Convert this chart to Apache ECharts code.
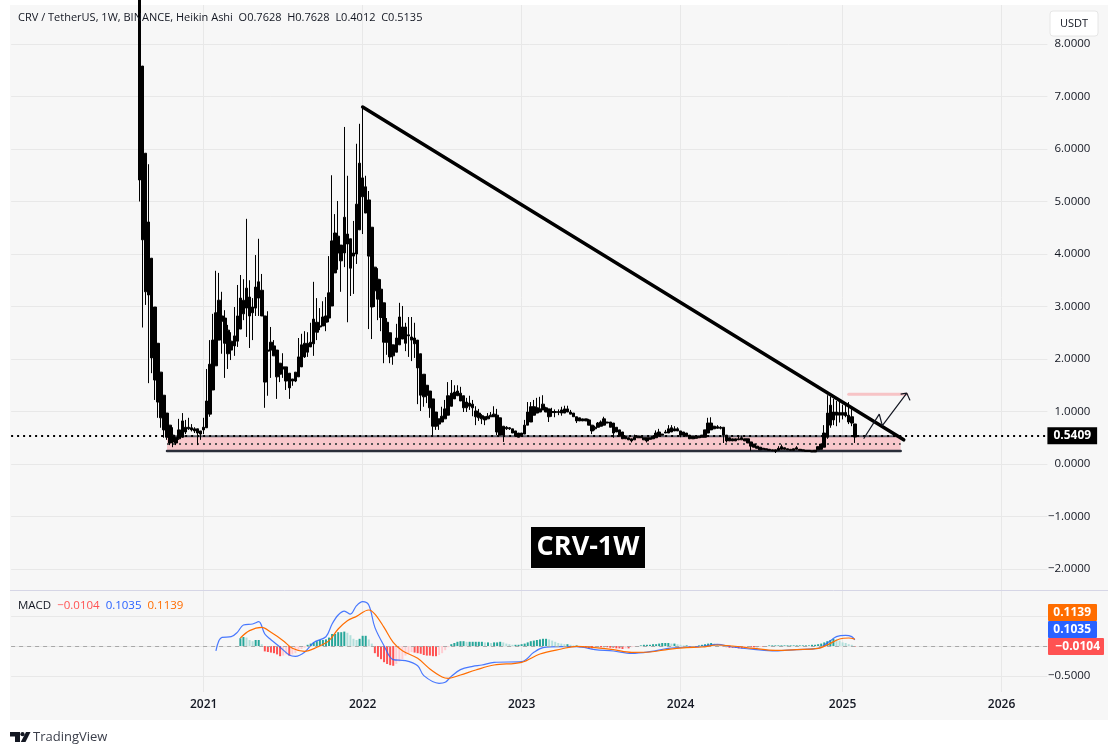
<!DOCTYPE html>
<html lang="en">
<head>
<meta charset="UTF-8">
<title>CRV / TetherUS 1W</title>
<script src="https://cdn.jsdelivr.net/npm/echarts@6/dist/echarts.min.js"></script>
<style>
  html, body { margin: 0; padding: 0; background: #fff; }
  #main { width: 1118px; height: 755px; }
</style>
</head>
<body>
<div id="main"></div>
<script>
// Heikin Ashi weekly candles (first one: Aug 2020)
const bodyTop = [
  9.75,7.58,5.92,4.61,3.92,2.99,2.30,1.75,1.31,0.97,
  .74,.55,.51,.65,.82,.70,.70,.69,.67,.67,
  .63,.70,1.20,1.90,2.36,2.88,3.12,2.82,2.78,2.55,
  2.34,2.44,2.82,3.16,3.12,3.35,3.18,2.99,3.37,3.47,
  3.31,2.82,2.17,2.32,2.25,2.17,1.92,1.85,1.85,1.73,
  1.62,1.75,2.04,2.27,2.30,2.30,2.32,2.76,2.70,2.63,
  2.80,2.82,3.26,4.25,4.40,4.34,4.17,4.70,4.38,4.29,
  4.02,4.95,5.73,5.45,5.28,5.03,4.51,3.75,3.52,3.33,
  3.07,2.70,2.50,2.27,2.40,2.80,2.61,2.61,2.46,2.42,
  2.40,2.36,2.10,1.71,1.50,1.39,1.24,.99,.86,.91,
  1.05,1.30,1.35,1.37,1.39,1.35,1.30,1.18,1.16,1.14,
  1.01,.97,.92,.90,.91,.93,.95,.93,.88,.72,
  .70,.69,.67,.63,.59,.59,.74,.99,1.09,1.09,
  1.07,1.05,1.14,1.07,1.05,1.00,1.00,1.00,1.03,1.05,
  1.05,.99,.97,.90,.88,.86,.86,.84,.74,.70,
  .78,.80,.86,.80,.80,.78,.70,.65,.61,.53,
  .50,.48,.51,.53,.52,.50,.50,.50,.53,.59,
  .61,.57,.61,.67,.69,.67,.67,.63,.61,.59,
  .55,.53,.51,.53,.55,.65,.78,.78,.72,.71,
  .70,.70,.55,.50,.48,.48,.48,.50,.48,.48,
  .42,.38,.34,.32,.30,.29,.28,.27,.27,.30,
  .33,.31,.29,.28,.29,.31,.28,.27,.26,.26,
  .25,.26,.33,.38,.59,.97,1.12,.99,.99,.98,
  .98,.98,.93,.90,.7628
];
const bodyBot = [
  5.41,4.27,3.28,3.22,2.02,1.60,1.18,.88,.65,.51,
  .40,.42,.40,.48,.51,.61,.67,.65,.63,.59,
  .57,.65,.69,.95,1.41,1.87,2.36,2.72,2.30,2.10,
  2.17,2.25,2.34,2.57,2.86,2.97,2.82,2.88,2.97,3.16,
  2.82,1.56,2.15,2.17,2.06,1.66,1.71,1.81,1.58,1.45,
  1.58,1.58,1.66,1.85,2.04,2.13,2.23,2.29,2.51,2.61,
  2.63,2.70,2.78,3.01,3.64,4.02,3.87,4.02,4.19,3.73,
  3.96,4.00,4.46,5.09,4.78,3.96,2.99,3.30,3.14,2.79,
  2.32,2.32,2.04,2.06,2.13,2.27,2.38,2.30,2.44,2.36,
  2.29,1.83,1.31,1.28,1.31,1.07,.72,.72,.76,.80,
  .86,.93,1.10,1.24,1.30,1.20,1.07,1.07,1.10,1.07,
  .90,.88,.86,.84,.86,.90,.90,.61,.55,.55,
  .67,.67,.59,.53,.51,.53,.57,.74,.80,.93,
  .97,.99,1.03,.99,.90,.98,.98,.98,.97,.97,
  .99,.95,.90,.82,.82,.82,.82,.74,.63,.67,
  .70,.72,.74,.78,.70,.59,.61,.53,.48,.48,
  .46,.44,.46,.50,.50,.46,.44,.47,.48,.50,
  .53,.55,.59,.59,.61,.63,.63,.55,.55,.53,
  .48,.48,.49,.50,.51,.51,.59,.65,.67,.68,
  .68,.55,.44,.44,.44,.44,.46,.46,.44,.40,
  .34,.32,.30,.27,.28,.27,.26,.25,.24,.26,
  .28,.28,.27,.26,.26,.28,.26,.25,.24,.24,
  .23,.23,.27,.28,.32,.51,.74,.84,.93,.93,
  .93,.92,.80,.78,.5135
];
const wickHigh = [
  9.75,7.58,5.92,5.71,3.92,2.99,2.30,1.75,1.31,.97,
  .74,.70,.51,.86,.97,.84,.88,.76,.70,.67,
  .63,.88,1.81,2.36,2.86,3.68,3.64,3.28,2.93,2.65,
  2.51,2.99,3.41,3.60,3.52,4.67,3.50,3.16,3.98,4.29,
  3.62,2.82,2.91,2.61,2.36,2.17,1.92,2.11,1.85,1.73,
  1.62,1.75,2.40,2.48,2.53,2.51,2.69,3.47,3.16,2.97,
  3.10,3.18,3.96,5.50,4.76,5.01,4.17,6.42,5.49,4.29,
  4.63,6.10,6.48,6.80,5.49,5.20,4.51,3.75,3.73,3.52,
  3.07,2.78,2.50,2.27,2.67,3.07,3.01,2.69,2.80,2.80,
  2.69,2.36,2.10,1.71,1.50,1.39,1.24,.99,.86,1.09,
  1.22,1.56,1.60,1.50,1.50,1.47,1.30,1.26,1.30,1.22,
  1.10,1.05,.95,.90,.97,.99,1.10,1.05,.88,.72,
  .72,.70,.67,.63,.59,.59,.84,1.18,1.18,1.22,
  1.26,1.28,1.31,1.09,1.05,1.07,1.04,1.04,1.09,1.11,
  1.11,1.03,.97,.90,.88,.86,.86,.86,.74,.73,
  .80,.83,.90,.80,.80,.78,.70,.65,.61,.53,
  .50,.48,.56,.53,.52,.50,.50,.50,.53,.64,
  .67,.57,.65,.74,.74,.72,.70,.63,.61,.59,
  .55,.53,.51,.53,.55,.65,.88,.89,.72,.74,
  .72,.70,.55,.50,.48,.48,.52,.54,.48,.48,
  .42,.38,.34,.32,.30,.29,.28,.27,.27,.34,
  .37,.31,.29,.28,.29,.34,.28,.27,.26,.26,
  .25,.26,.33,.38,.74,1.31,1.28,1.24,1.20,1.22,
  1.13,1.18,1.18,1.06,.7628
];
const wickLow = [
  5.00,2.60,3.03,1.54,1.73,1.22,.88,.69,.50,.46,
  .36,.32,.36,.46,.50,.57,.65,.62,.59,.36,
  .46,.57,.69,.90,1.41,1.87,2.36,2.10,1.64,1.81,
  1.98,2.06,2.23,2.57,2.74,2.42,2.21,2.36,2.82,2.82,
  2.82,1.07,1.30,1.64,2.06,1.24,1.56,1.64,1.41,1.24,
  1.49,1.56,1.66,1.85,2.02,2.04,2.23,2.06,2.36,2.55,
  2.63,2.53,2.70,3.01,3.64,3.70,3.28,3.75,2.70,3.20,
  3.24,3.81,4.46,4.38,4.78,2.57,2.38,2.99,2.74,2.53,
  1.92,2.08,1.92,1.89,2.13,2.27,2.38,2.15,2.04,1.96,
  2.02,1.14,1.01,1.09,1.16,.88,.55,.65,.65,.80,
  .86,.93,1.10,1.24,1.30,1.20,.99,.99,1.03,.91,
  .74,.82,.76,.74,.86,.90,.90,.55,.55,.42,
  .65,.65,.59,.53,.51,.53,.57,.74,.80,.93,
  .97,.99,1.03,.99,.80,.90,.89,.93,.92,.97,
  .99,.95,.90,.78,.82,.82,.82,.74,.57,.64,
  .70,.72,.74,.78,.70,.50,.61,.53,.48,.48,
  .46,.41,.46,.50,.50,.46,.41,.47,.48,.50,
  .53,.55,.59,.59,.61,.63,.63,.51,.55,.53,
  .48,.48,.49,.50,.51,.51,.59,.65,.67,.68,
  .66,.40,.41,.44,.44,.44,.46,.46,.44,.40,
  .25,.32,.30,.27,.28,.27,.26,.25,.21,.26,
  .28,.28,.27,.26,.26,.28,.26,.25,.24,.24,
  .23,.23,.27,.28,.32,.48,.69,.74,.72,.79,
  .85,.89,.76,.72,.4012
];

// MACD pane, weeks are counted from the first candle
const macdWeeks = [25,26,27,30,32,34,37,39,41,43,46,49,51,54,57,61,63,65,67,69,71,73,75,77,80,83,87,91,93,98,
  100,102,105,109,112,116,125,129,132,138,143,149,155,161,167,173,179,184,189,194,201,208,215,222,225,228,231,233,234];
const macdValues = [-.08,.09,.144,.155,.228,.35,.367,.405,.20,.105,-.02,-.15,-.172,-.105,.06,.155,.367,.517,.583,.533,
  .672,.739,.683,.31,.005,-.228,-.244,-.328,-.494,-.622,-.606,-.506,-.394,-.339,-.317,-.272,-.261,-.106,-.028,-.011,
  -.011,-.06,-.083,-.122,-.094,-.04,-.017,-.006,.028,-.017,-.056,-.083,-.06,-.04,.05,.156,.178,.156,.1035];
const signalWeeks = [33,36,40,43,47,50,54,58,62,65,68,71,75,77,80,83,86,91,95,99,
  101,105,110,116,125,131,138,143,149,155,161,167,173,179,184,189,194,201,208,215,222,225,229,232,234];
const signalValues = [.133,.256,.311,.228,.089,-.039,-.089,-.022,.089,.283,.422,.494,.60,.533,.311,.061,-.078,-.206,-.383,-.517,
  -.539,-.483,-.40,-.317,-.272,-.133,-.05,-.005,-.028,-.06,-.105,-.10,-.055,-.028,-.017,.017,0,-.039,-.072,-.06,-.04,.017,.117,.133,.1139];
const histFirstWeek = 33;
const histValues = [
  .13,.15,.14,.10,.08,.10,.10,.03,
  -.09,-.10,-.11,-.12,-.14,-.17,-.16,-.14,-.16,-.14,-.12,-.08,-.05,-.03,
  .02,.04,.06,.08,.10,.10,.11,.14,.20,.20,.23,.23,.24,.22,.18,.12,.10,.12,.17,.17,.11,.04,
  -.12,-.18,-.22,-.27,-.30,-.32,-.33,-.30,-.26,-.22,-.16,-.12,-.10,-.11,-.12,-.13,-.15,-.16,-.16,-.17,-.17,-.15,-.12,-.07,-.02,
  .03,.05,.07,.08,.08,.07,.07,.07,.07,.07,.07,.06,.06,.05,.06,.06,.07,.06,.04,.03,.02,.02,.02,.03,.04,.06,.08,.09,.10,.11,.12,.12,.11,.09,.07,.05,.04,.03,.03,.02,.01,.01,
  -.02,-.02,-.03,-.04,-.04,-.03,-.01,-.02,-.02,-.02,-.03,-.03,-.04,-.04,-.05,-.04,-.04,-.02,-.01,0,
  .01,.02,.02,.02,.03,.03,.04,.05,.05,.05,.04,.04,.03,.02,.01,.01,
  -.01,-.01,-.01,.01,.02,.03,.04,.05,.04,.03,.01,
  -.01,-.02,-.03,-.03,-.03,-.04,-.04,-.03,-.02,-.02,-.02,-.02,-.01,-.01,0,
  .01,.01,.01,.01,.01,.01,.01,.01,.01,.01,.01,.01,.01,.01,.02,.02,.03,.04,.06,.08,.10,.12,.11,.09,.06,.05,.03,.02,-.01
];

// Drawings on the price pane: [week, price]
const trendLine = [[73, 6.8], [250, 0.46]];
const zoneTop = [[9, 0.53], [249, 0.53]];
const zoneMid = [[9, 0.38], [249, 0.38]];
const zoneBottom = [[9, 0.25], [249, 0.25]];
const targetLine = [[232, 1.33], [251, 1.33]];
const arrowPath = [[237, 0.49], [242, 0.95], [243, 0.73], [251, 1.35], [249, 1.33], [251, 1.35], [252, 1.22]];
const lastPrice = 0.5409;

// Axis
const yearLabels = ['2021', '2022', '2023', '2024', '2025', '2026'];
const yearWeeks = [21, 73, 125, 177, 230, 282];
const legendLine = 'CRV / TetherUS, 1W, BINANCE, Heikin Ashi  O0.7628  H0.7628  L0.4012  C0.5135';
const macdTags = ['0.1139', '0.1035', '\u22120.0104'];

const leadWeeks = 42;   // empty weeks left of the first candle
const totalWeeks = 340;
const fontName = '"Open Sans", "Noto Sans", sans-serif';

let categories = [];
for (let i = 0; i < totalWeeks; i++) categories.push('w' + i);
yearWeeks.forEach((w, k) => { categories[w + leadWeeks] = yearLabels[k]; });
const isYear = (idx) => yearWeeks.indexOf(idx - leadWeeks) >= 0;
const shift = (pts) => pts.map(p => [p[0] + leadWeeks, p[1]]);

let candles = bodyTop.map((t, i) => [i + leadWeeks, t, bodyBot[i], wickLow[i], wickHigh[i]]);
let hist = histValues.map((v, i) => {
  let prev = i > 0 ? histValues[i - 1] : 0;
  let color;
  if (v >= 0) color = v >= prev ? '#26a69a' : '#b2dfdb';
  else color = v <= prev ? '#ff5252' : '#ffcdd2';
  return { value: [histFirstWeek + i + leadWeeks, v], itemStyle: { color: color } };
});

function plainLine(name, pts, width, color, dash, z) {
  return {
    name: name, type: 'line', data: shift(pts), xAxisIndex: 0, yAxisIndex: 0,
    symbol: 'none', silent: true, z: z,
    lineStyle: { width: width, color: color, type: dash || 'solid', cap: dash ? 'butt' : 'round' }
  };
}

const gridLineColor = '#e8e8e8';
const plotLeft = 11.1, plotWidth = 1036.3;

let myChart = echarts.init(document.getElementById('main'), null, { renderer: 'canvas' });
let option = {
  animation: false,
  backgroundColor: '#fff',
  textStyle: { fontFamily: fontName },
  title: [
    { text: legendLine, left: 18, top: 12, padding: 0, textStyle: { fontSize: 11, fontWeight: 'normal', color: '#131722', fontFamily: fontName } },
    {
      text: 'MACD  {r|\u22120.0104}  {b|0.1035}  {o|0.1139}', left: 18, top: 600, padding: 0,
      textStyle: {
        fontSize: 11.5, fontWeight: 'normal', color: '#131722', fontFamily: fontName,
        rich: { r: { color: '#ff5252', fontSize: 11.5 }, b: { color: '#2962ff', fontSize: 11.5 }, o: { color: '#ff6d00', fontSize: 11.5 } }
      }
    }
  ],
  graphic: [
    { type: 'rect', z: -10, silent: true, shape: { x: 10, y: 5, width: 1098, height: 715 }, style: { fill: '#f7f7f7' } },
    { type: 'line', z: 1, silent: true, shape: { x1: 10, y1: 590.5, x2: 1108, y2: 590.5 }, style: { stroke: '#d6d6e6', lineWidth: 1 } },
    // unit box
    { type: 'rect', z: 5, silent: true, shape: { x: 1050, y: 11, width: 48, height: 25, r: 3 }, style: { fill: '#fff', stroke: '#e6e6e6' } },
    { type: 'text', z: 6, silent: true, style: { x: 1074, y: 23.5, text: 'USDT', fill: '#131722', font: '11px ' + fontName, align: 'center', verticalAlign: 'middle' } },
    // MACD tags
    { type: 'rect', z: 5, silent: true, shape: { x: 1048, y: 604, width: 49, height: 17, r: 1 }, style: { fill: '#ff6d00' } },
    { type: 'text', z: 6, silent: true, style: { x: 1091, y: 612.5, text: macdTags[0], fill: '#fff', font: 'bold 12px ' + fontName, align: 'right', verticalAlign: 'middle' } },
    { type: 'rect', z: 5, silent: true, shape: { x: 1048, y: 621, width: 49, height: 17, r: 1 }, style: { fill: '#2962ff' } },
    { type: 'text', z: 6, silent: true, style: { x: 1091, y: 629.5, text: macdTags[1], fill: '#fff', font: 'bold 12px ' + fontName, align: 'right', verticalAlign: 'middle' } },
    { type: 'rect', z: 5, silent: true, shape: { x: 1048, y: 638, width: 56, height: 17, r: 1 }, style: { fill: '#ff5252' } },
    { type: 'text', z: 6, silent: true, style: { x: 1100, y: 646.5, text: macdTags[2], fill: '#fff', font: 'bold 12px ' + fontName, align: 'right', verticalAlign: 'middle' } },
    // chart name badge
    { type: 'rect', z: 5, silent: true, shape: { x: 531, y: 527, width: 114, height: 41 }, style: { fill: '#000' } },
    { type: 'text', z: 6, silent: true, style: { x: 588, y: 547.5, text: 'CRV-1W', fill: '#fff', font: 'bold 27px ' + fontName, align: 'center', verticalAlign: 'middle' } },
    // logo
    { type: 'polygon', silent: true, shape: { points: [[10, 732], [20, 732], [20, 742], [15, 742], [15, 736.5], [10, 736.5]] }, style: { fill: '#131722' } },
    { type: 'circle', silent: true, shape: { cx: 22.5, cy: 734.2, r: 2.1 }, style: { fill: '#131722' } },
    { type: 'polygon', silent: true, shape: { points: [[26, 732], [30.5, 732], [25.5, 742], [20.8, 742]] }, style: { fill: '#131722' } },
    { type: 'text', silent: true, style: { x: 33, y: 737.5, text: 'TradingView', fill: '#3a3e4a', font: '13px ' + fontName, verticalAlign: 'middle' } }
  ],
  grid: [
    { left: plotLeft, width: plotWidth, top: 5, height: 585 },
    { left: plotLeft, width: plotWidth, top: 591, height: 101 }
  ],
  xAxis: [0, 1].map(k => ({
    type: 'category', gridIndex: k, data: categories, boundaryGap: false,
    axisLine: { show: false }, axisTick: { show: false },
    axisPointer: { show: false },
    splitLine: { show: true, interval: (idx) => isYear(idx), lineStyle: { color: gridLineColor, width: 1 } },
    axisLabel: k === 0 ? { show: false } : {
      show: true, interval: (idx) => isYear(idx), margin: 7, hideOverlap: false,
      color: '#131722', fontSize: 12, fontWeight: 600, fontFamily: fontName
    }
  })),
  yAxis: [
    {
      type: 'value', gridIndex: 0, position: 'right', min: -2.4, max: 8.743, splitNumber: 11,
      axisLine: { show: false }, axisTick: { show: false },
      splitLine: { show: true, showMinLine: false, showMaxLine: false, lineStyle: { color: gridLineColor, width: 1 } },
      axisLabel: {
        showMinLabel: false, showMaxLabel: false, align: 'right', margin: 43,
        color: '#131722', fontSize: 11.5, fontFamily: fontName,
        formatter: (v) => (v < 0 ? '\u2212' : '') + Math.abs(v).toFixed(4)
      }
    },
    {
      type: 'value', gridIndex: 1, position: 'right', min: -0.767, max: 0.917, splitNumber: 4,
      axisLine: { show: false }, axisTick: { show: false },
      splitLine: { show: true, showMinLine: false, showMaxLine: false, lineStyle: { color: gridLineColor, width: 1 } },
      axisLabel: {
        showMinLabel: false, showMaxLabel: false, align: 'right', margin: 43,
        color: '#131722', fontSize: 11.5, fontFamily: fontName,
        formatter: (v) => (v === -0.5 ? '\u22120.5000' : '')
      }
    }
  ],
  series: [
    {
      name: 'CRV', type: 'candlestick', xAxisIndex: 0, yAxisIndex: 0, z: 5, silent: true,
      data: candles, encode: { x: 0, y: [1, 2, 3, 4] }, barWidth: 3,
      itemStyle: { color: '#000', color0: '#000', borderColor: '#000', borderColor0: '#000', borderWidth: 1 },
      markArea: {
        silent: true, z: 1,
        itemStyle: { color: '#f8c8cc', opacity: 1 },
        data: [[{ xAxis: zoneTop[0][0] + leadWeeks, yAxis: zoneTop[0][1] }, { xAxis: zoneBottom[1][0] + leadWeeks, yAxis: zoneBottom[1][1] }]]
      },
      markLine: {
        silent: true, symbol: 'none', z: 8, animation: false,
        data: [{ yAxis: lastPrice }],
        lineStyle: { color: '#000', width: 2, type: [2, 4] },
        label: {
          show: true, position: 'end', distance: 0, formatter: lastPrice.toFixed(4),
          backgroundColor: '#000', color: '#fff', fontWeight: 'bold', fontSize: 12,
          fontFamily: fontName, padding: [3, 6, 2, 6]
        }
      }
    },
    plainLine('zoneBottom', zoneBottom, 2.5, '#2a2e39', null, 3),
    plainLine('zoneTop', zoneTop, 2, '#5d606b', null, 3),
    plainLine('zoneMid', zoneMid, 2, '#555', [2, 4], 3),
    plainLine('trend', trendLine, 3.5, '#000', null, 9),
    plainLine('target', targetLine, 3, '#f7c4c6', null, 6),
    plainLine('arrow', arrowPath, 1.2, '#131722', null, 9),
    {
      name: 'Histogram', type: 'bar', xAxisIndex: 1, yAxisIndex: 1, data: hist, barWidth: 2, silent: true, z: 3,
      markLine: {
        silent: true, symbol: 'none', animation: false, label: { show: false },
        data: [{ yAxis: 0 }], lineStyle: { color: '#a8a8a8', width: 1, type: [4, 4] }
      }
    },
    {
      name: 'MACD', type: 'line', xAxisIndex: 1, yAxisIndex: 1, symbol: 'none', smooth: 0.35, silent: true, z: 4,
      data: macdWeeks.map((w, i) => [w + leadWeeks, macdValues[i]]),
      lineStyle: { color: '#2962ff', width: 1.2, opacity: 0.85 }
    },
    {
      name: 'Signal', type: 'line', xAxisIndex: 1, yAxisIndex: 1, symbol: 'none', smooth: 0.35, silent: true, z: 5,
      data: signalWeeks.map((w, i) => [w + leadWeeks, signalValues[i]]),
      lineStyle: { color: '#ff6d00', width: 1.2 }
    }
  ]
};
myChart.setOption(option);
</script>
</body>
</html>
